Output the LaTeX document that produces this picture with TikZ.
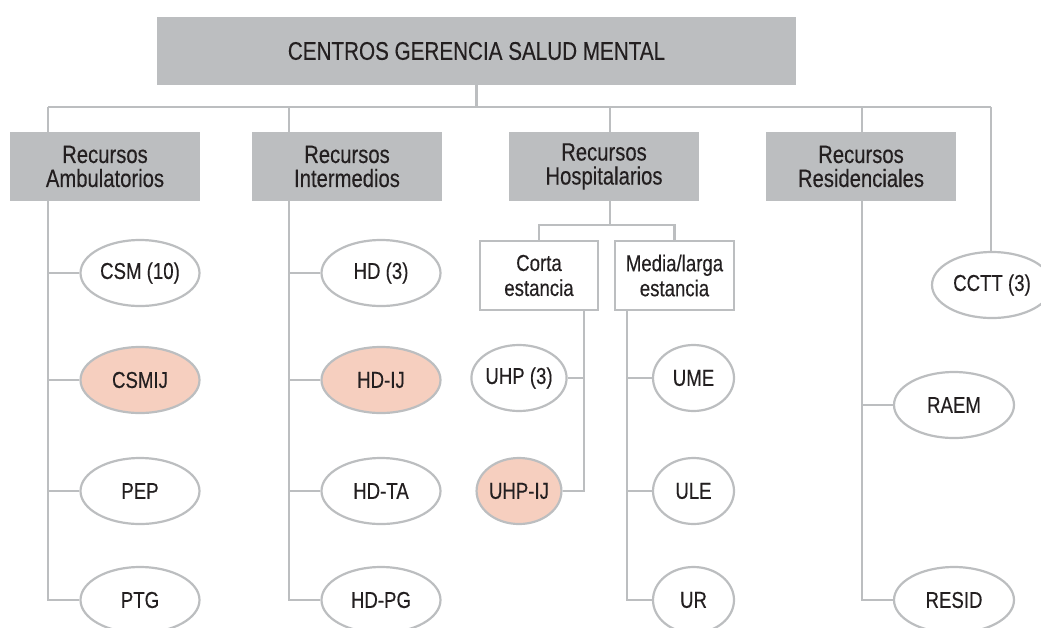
\documentclass[tikz,border=0pt]{standalone}
\usepackage{fontspec}
\setmainfont[FakeStretch=0.81,FakeBold=0.3]{Liberation Sans}
\usetikzlibrary{shapes.geometric,backgrounds}
\definecolor{lgray}{HTML}{BCBEC0}
\definecolor{peach}{HTML}{F6CFBF}
\definecolor{ink}{HTML}{231F20}
\begin{document}
\begin{tikzpicture}[x=1pt,y=-1pt,
  hdr/.style={rectangle, fill=lgray, draw=none, minimum width=190pt, minimum height=69pt, inner sep=0pt, align=center, text=ink, font=\fontsize{25}{24}\selectfont},
  ell/.style={ellipse, draw=lgray, line width=2.2pt, fill=white, minimum width=119pt, minimum height=66pt, inner sep=0pt, text=ink, font=\fontsize{23}{24}\selectfont},
  hl/.style={fill=peach},
  sbox/.style={rectangle, draw=lgray, line width=2.2pt, fill=white, minimum width=118pt, minimum height=69pt, inner sep=0pt, align=center, text=ink, font=\fontsize{23}{25}\selectfont},
  conn/.style={draw=lgray, line width=2.2pt}]
\useasboundingbox (0,0) rectangle (1041,627);
\clip (0,0) rectangle (1041,627);
% top
\node[hdr, minimum width=639pt, minimum height=68pt, font=\fontsize{25.5}{24}\selectfont] (top) at (476.5,51) {CENTROS GERENCIA SALUD MENTAL};
% headers
\node[hdr] (amb) at (105,166.5) {Recursos\\Ambulatorios};
\node[hdr] (int) at (347,166.5) {Recursos\\Intermedios};
\node[hdr] (hosp) at (604,166.5) {Recursos\\Hospitalarios};
\node[hdr] (res) at (861,166.5) {Recursos\\Residenciales};
% sub boxes
\node[sbox] (corta) at (539,275.5) {Corta\\estancia};
\node[sbox, minimum width=119pt] (media) at (674.5,275.5) {Media/larga\\estancia};
% ambulatorios
\node[ell] (csm) at (140,273) {CSM (10)};
\node[ell,hl] (csmij) at (140,380) {CSMIJ};
\node[ell] (pep) at (140,491) {PEP};
\node[ell] (ptg) at (140,600) {PTG};
% intermedios
\node[ell] (hd) at (381,273) {HD (3)};
\node[ell,hl] (hdij) at (381,380) {HD-IJ};
\node[ell] (hdta) at (381,491) {HD-TA};
\node[ell] (hdpg) at (381,600) {HD-PG};
% hospitalarios
\node[ell, minimum width=82pt] (uhp) at (519,378) {UHP (3)};
\node[ell,hl, minimum width=82pt] (uhpij) at (519,491) {UHP-IJ};
\node[ell, minimum width=81pt] (ume) at (693.5,378) {UME};
\node[ell, minimum width=81pt] (ule) at (693.5,491) {ULE};
\node[ell, minimum width=81pt] (ur) at (693.5,600) {UR};
% residenciales
\node[ell, minimum width=120pt] (raem) at (954,405) {RAEM};
\node[ell, minimum width=120pt] (resid) at (954,600) {RESID};
\node[ell, minimum width=120pt] (cctt) at (992,285) {CCTT (3)};
% coordinates
\coordinate (hA) at (48,107);
\coordinate (hI) at (289,107);
\coordinate (hH) at (610,107);
\coordinate (hR) at (862,107);
\coordinate (hC) at (991,107);
\coordinate (hsplit) at (610,225);
\coordinate (cx) at (584,310);
\coordinate (mx) at (627,310);
\begin{pgfonlayer}{background}
\draw[conn] (top.south) -- (top.south |- hA);
\draw[conn] (hA) -- (hC);
\draw[conn] (hA) |- (ptg.west);
\draw[conn] (csm.west) -- (csm.west -| hA);
\draw[conn] (csmij.west) -- (csmij.west -| hA);
\draw[conn] (pep.west) -- (pep.west -| hA);
\draw[conn] (hI) |- (hdpg.west);
\draw[conn] (hd.west) -- (hd.west -| hI);
\draw[conn] (hdij.west) -- (hdij.west -| hI);
\draw[conn] (hdta.west) -- (hdta.west -| hI);
\draw[conn] (hH) -- (hsplit);
\draw[conn] (corta.north) -- (corta.north |- hsplit) -- (media.north |- hsplit) -- (media.north);
\draw[conn] (cx) |- (uhpij.east);
\draw[conn] (uhp.east) -- (uhp.east -| cx);
\draw[conn] (mx) |- (ur.west);
\draw[conn] (ume.west) -- (ume.west -| mx);
\draw[conn] (ule.west) -- (ule.west -| mx);
\draw[conn] (hR) |- (resid.west);
\draw[conn] (raem.west) -- (raem.west -| hR);
\draw[conn] (hC) -- (cctt.north -| hC);
\end{pgfonlayer}
\end{tikzpicture}
\end{document}
